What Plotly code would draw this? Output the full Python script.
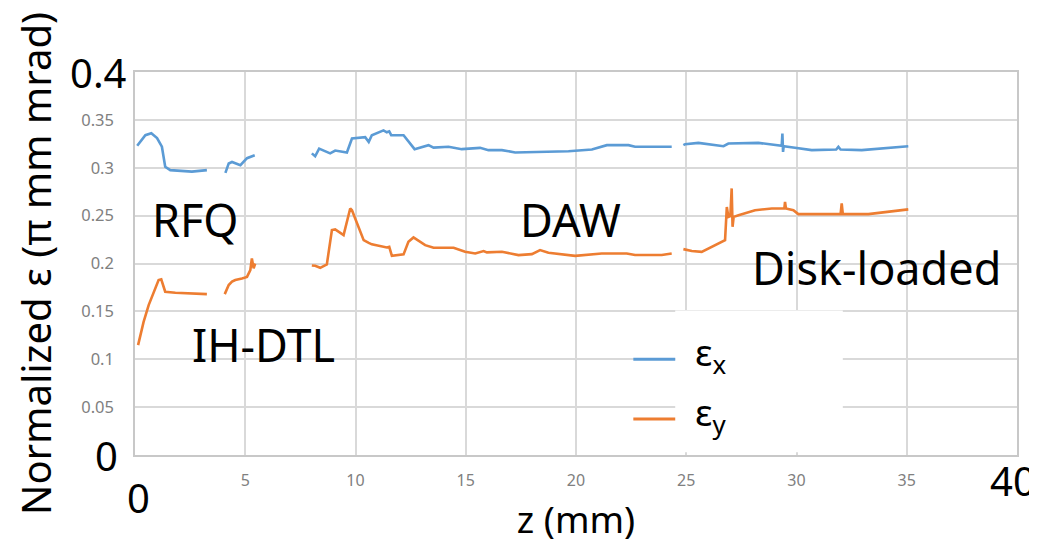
import plotly.graph_objects as go

# ---- data ----
# epsilon_x, four machine sections (None separates sections)
zx_rfq = [0.1, 0.47, 0.74, 1.0, 1.22, 1.37, 1.6, 2.58, 3.26]
ex_rfq = [0.323, 0.334, 0.336, 0.331, 0.322, 0.301, 0.2975, 0.296, 0.2975]
zx_ih = [4.1, 4.25, 4.4, 4.78, 5.08, 5.43]
ex_ih = [0.2947, 0.3045, 0.306, 0.3027, 0.310, 0.313]
zx_daw = [8.02, 8.17, 8.35, 8.85, 9.08, 9.61, 9.84, 10.44, 10.6, 10.74, 11.27, 11.42, 11.53,
          11.62, 12.18, 12.68, 13.31, 13.54, 14.22, 14.82, 15.65, 16.03, 16.64, 17.24, 19.66,
          20.72, 21.4, 22.38, 22.68, 24.34]
ex_daw = [0.315, 0.312, 0.320, 0.315, 0.318, 0.316, 0.3306, 0.332, 0.327, 0.334, 0.339, 0.337, 0.338,
          0.334, 0.334, 0.3194, 0.3236, 0.321, 0.322, 0.3194, 0.3208, 0.3184, 0.3184, 0.316, 0.3173,
          0.319, 0.3236, 0.3236, 0.322, 0.322]
zx_disk = [24.87, 24.95, 25.55, 26.69, 26.91, 28.27, 29.33, 29.36, 29.39, 29.42, 29.93, 30.69,
           31.8, 31.9, 32.0, 32.96, 35.07]
ex_disk = [0.3236, 0.3246, 0.326, 0.3225, 0.3253, 0.326, 0.3229, 0.3358, 0.3166, 0.3225, 0.3208, 0.3184,
           0.319, 0.3218, 0.319, 0.3184, 0.3225]

# epsilon_y
zy_rfq = [0.14, 0.39, 0.62, 0.85, 1.07, 1.19, 1.37, 1.83, 2.66, 3.26]
ey_rfq = [0.1148, 0.139, 0.1566, 0.1705, 0.1827, 0.1834, 0.1705, 0.1694, 0.1688, 0.168]
zy_ih = [4.07, 4.25, 4.4, 4.55, 4.85, 5.08, 5.23, 5.3, 5.38, 5.45]
ey_ih = [0.168, 0.1775, 0.181, 0.1827, 0.1844, 0.186, 0.193, 0.2053, 0.1949, 0.200]
zy_daw = [8.02, 8.17, 8.4, 8.7, 8.93, 9.08, 9.46, 9.76, 9.84, 10.37, 10.6, 10.74, 11.42, 11.53,
          11.65, 12.18, 12.4, 12.63, 13.16, 13.54, 14.45, 14.97, 15.43, 15.81, 15.96, 16.64,
          17.39, 18.0, 18.37, 18.75, 19.96, 21.17, 22.3, 22.68, 23.89, 24.34]
ey_daw = [0.198, 0.1976, 0.1955, 0.199, 0.2349, 0.2356, 0.2296, 0.2575, 0.2557, 0.2244, 0.2216, 0.220,
          0.2168, 0.2174, 0.208, 0.2095, 0.2227, 0.2272, 0.2192, 0.2164, 0.2164, 0.2122, 0.2105,
          0.213, 0.2116, 0.2122, 0.2088, 0.2098, 0.214, 0.2112, 0.208, 0.2105, 0.2105, 0.2088,
          0.2088, 0.2105]
zy_disk = [24.87, 25.25, 25.7, 26.16, 26.76, 26.84, 26.91, 27.0, 27.06, 27.1, 27.15, 27.37, 28.12,
           28.88, 29.45, 29.48, 29.52, 29.86, 30.08, 32.0, 32.05, 32.1, 33.26, 35.07]
ey_disk = [0.215, 0.213, 0.2122, 0.2174, 0.2244, 0.259, 0.2487, 0.2495, 0.2784, 0.2383, 0.2487,
           0.2505, 0.2557, 0.2575, 0.2575, 0.2644, 0.2575, 0.2557, 0.2516, 0.2516, 0.2627, 0.2516,
           0.2516, 0.2565]

section_labels = ["RFQ", "IH-DTL", "DAW", "Disk-loaded"]
y_ticks = [0.05, 0.1, 0.15, 0.2, 0.25, 0.3, 0.35]
y_ticktext = ["0.05", "0.1", "0.15", "0.2", "0.25", "0.3", "0.35"]
x_ticks = [5, 10, 15, 20, 25, 30, 35]
x_ticktext = ["5", "10", "15", "20", "25", "30", "35"]


def join(*parts):
    out = []
    for i, p in enumerate(parts):
        if i:
            out.append(None)
        out.extend(p)
    return out


BLUE = "#5b9bd5"
ORANGE = "#ed7d31"
FONT = "Noto Sans"

fig = go.Figure()
fig.add_trace(go.Scatter(
    x=join(zx_rfq, zx_ih, zx_daw, zx_disk), y=join(ex_rfq, ex_ih, ex_daw, ex_disk),
    mode="lines", name="ε<sub>x</sub>", line=dict(color=BLUE, width=2.6),
    connectgaps=False, showlegend=False))
fig.add_trace(go.Scatter(
    x=join(zy_rfq, zy_ih, zy_daw, zy_disk), y=join(ey_rfq, ey_ih, ey_daw, ey_disk),
    mode="lines", name="ε<sub>y</sub>", line=dict(color=ORANGE, width=2.6),
    connectgaps=False, showlegend=False))

grid = "#d9d9d9"
# the page body adds an 8px offset, so the figure is 8px smaller than the window
fig.update_layout(
    width=1029, height=536,
    margin=dict(l=127, r=20, t=64, b=89),
    paper_bgcolor="white", plot_bgcolor="white",
    font=dict(family=FONT, color="black"),
    xaxis=dict(range=[0, 40], tickvals=x_ticks, ticktext=x_ticktext, automargin=False,
               tickfont=dict(size=16, color="#808080"), ticks="", ticklabelstandoff=10,
               showgrid=True, gridcolor=grid, gridwidth=1.5,
               showline=True, linecolor="#c8c8c8", linewidth=1.5, mirror=True,
               zeroline=False,
               title=dict(text="z (mm)", font=dict(size=37), standoff=18)),
    yaxis=dict(range=[0, 0.4], tickvals=y_ticks, ticktext=y_ticktext, automargin=False,
               tickfont=dict(size=16.5, color="#808080"), ticks="", ticklabelstandoff=16,
               showgrid=True, gridcolor=grid, gridwidth=1.5,
               showline=True, linecolor="#c8c8c8", linewidth=1.5, mirror=True,
               zeroline=False,
               title=dict(text="Normalized ε (π mm mrad)", font=dict(size=40), standoff=24)),
)

big = dict(size=40, color="black", family=FONT)
ann = [
    dict(text="0.4", x=0, y=0.4, xref="paper", yref="y", xanchor="center", yanchor="middle",
         xshift=-37, yshift=0, font=big, showarrow=False),
    dict(text="0", x=0, y=0, xref="paper", yref="y", xanchor="center", yanchor="middle",
         xshift=-29, yshift=0, font=big, showarrow=False),
    dict(text="0", x=0, y=0, xref="x", yref="paper", xanchor="center", yanchor="middle",
         xshift=3, yshift=-42, font=big, showarrow=False),
    dict(text="40", x=40, y=0, xref="x", yref="paper", xanchor="center", yanchor="middle",
         xshift=-4, yshift=-25, font=big, showarrow=False),
]
# section labels
sec_pos = [(2.75, 0.246), (5.85, 0.115), (19.75, 0.246), (33.65, 0.196)]
for t, (xx, yy) in zip(section_labels, sec_pos):
    ann.append(dict(text=t, x=xx, y=yy, xref="x", yref="y", xanchor="center", yanchor="middle",
                    font=dict(size=45, color="black", family=FONT), showarrow=False))

# manual legend
leg_items = [("ε<sub>x</sub>", BLUE, 0.1), ("ε<sub>y</sub>", ORANGE, 0.0375)]
shapes = [dict(type="rect", xref="x", yref="y", x0=24.5, x1=32.1, y0=0.003, y1=0.151,
               fillcolor="white", line=dict(width=0), layer="between")]
for t, c, yy in leg_items:
    shapes.append(dict(type="line", xref="x", yref="y", x0=22.6, x1=24.5, y0=yy, y1=yy,
                       line=dict(color=c, width=3), layer="above"))
    ann.append(dict(text=t, x=25.3, y=yy, xref="x", yref="y", xanchor="left", yanchor="middle",
                    yshift=5, font=dict(size=37, color="black", family=FONT), showarrow=False))

fig.update_layout(annotations=ann, shapes=shapes)
fig.write_html("out.html")
